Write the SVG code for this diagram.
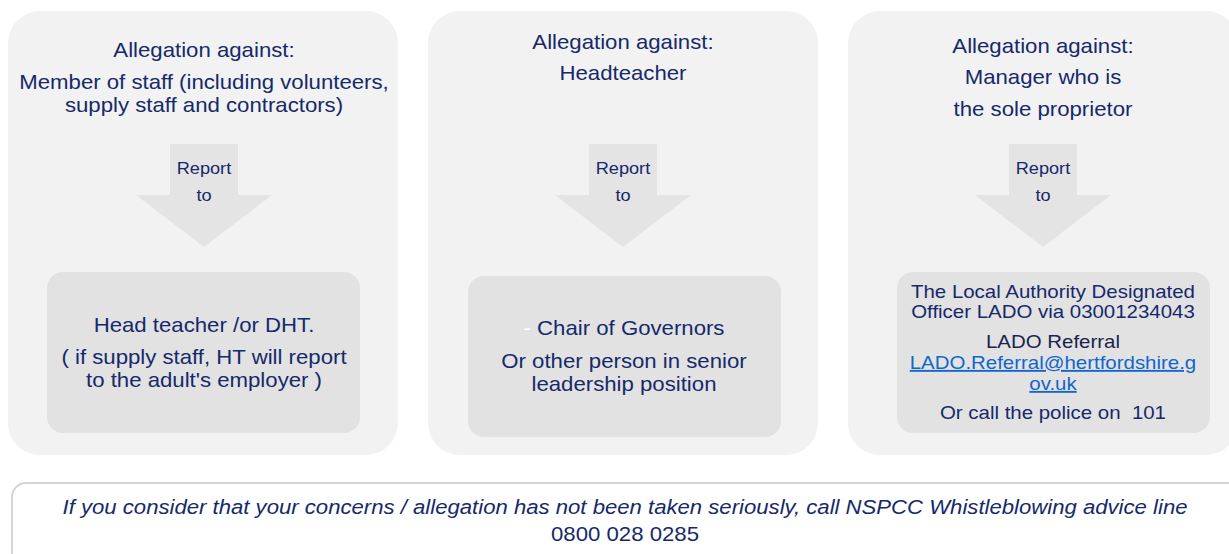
<svg xmlns="http://www.w3.org/2000/svg" width="1229" height="554" viewBox="0 0 1229 554">
<style>
.panel{fill:#f2f2f2}
.inner{fill:#e2e2e2}
.arrow{fill:#e4e4e4}
text{font-family:"Liberation Sans",Arial,sans-serif;fill:#15296b;text-anchor:middle;white-space:pre}
.h{font-size:20px}
.r{font-size:16.5px}
.s{font-size:18.5px}
.link{fill:#1166cc;text-decoration:underline}
.foot{font-size:20px;font-style:italic}
</style>
<rect width="1229" height="554" fill="#ffffff"/>
<g id="panel-staff">
<rect class="panel" x="8" y="11" width="390" height="444" rx="32"/>
<g transform="matrix(1.11,0,0,1,-22.44,0)">
<text class="h" x="204" y="57">Allegation against:</text>
<text class="h" x="204" y="89">Member of staff (including volunteers,</text>
<text class="h" x="204" y="112">supply staff and contractors)</text>
</g>
</g>
<g id="panel-head">
<rect class="panel" x="428" y="11" width="390" height="444" rx="32"/>
<g transform="matrix(1.11,0,0,1,-68.53,0)">
<text class="h" x="623" y="49">Allegation against:</text>
<text class="h" x="623" y="80">Headteacher</text>
</g>
</g>
<g id="panel-manager">
<rect class="panel" x="848" y="11" width="390" height="444" rx="32"/>
<g transform="matrix(1.11,0,0,1,-114.73,0)">
<text class="h" x="1043" y="53">Allegation against:</text>
<text class="h" x="1043" y="84">Manager who is</text>
<text class="h" x="1043" y="116">the sole proprietor</text>
</g>
</g>
<g id="connectors">
<g id="arrow-1">
<polygon class="arrow" points="170,144 238,144 238,195 272,195 204,247 136,195 170,195"/>
<g transform="matrix(1.1,0,0,1,-20.4,0)">
<text class="r" x="204" y="174">Report</text>
<text class="r" x="204" y="201">to</text>
</g>
</g>
<g id="arrow-2">
<polygon class="arrow" points="589,144 657,144 657,195 691,195 623,247 555,195 589,195"/>
<g transform="matrix(1.1,0,0,1,-62.3,0)">
<text class="r" x="623" y="174">Report</text>
<text class="r" x="623" y="201">to</text>
</g>
</g>
<g id="arrow-3">
<polygon class="arrow" points="1009,144 1077,144 1077,195 1111,195 1043,247 975,195 1009,195"/>
<g transform="matrix(1.1,0,0,1,-104.3,0)">
<text class="r" x="1043" y="174">Report</text>
<text class="r" x="1043" y="201">to</text>
</g>
</g>
</g>
<g id="box-ht">
<rect class="inner" x="47" y="272" width="313" height="161" rx="16"/>
<g transform="matrix(1.11,0,0,1,-22.44,0)">
<text class="h" x="204" y="332">Head teacher /or DHT.</text>
<text class="h" x="204" y="364">( if supply staff, HT will report</text>
<text class="h" x="204" y="387">to the adult's employer )</text>
</g>
</g>
<g id="box-chair">
<rect class="inner" x="468" y="276" width="313" height="161" rx="16"/>
<g transform="matrix(1.11,0,0,1,-68.64,0)">
<text class="h" x="624" y="335"><tspan fill="#ffffff">-</tspan> Chair of Governors</text>
<text class="h" x="624" y="368">Or other person in senior</text>
<text class="h" x="624" y="391">leadership position</text>
</g>
</g>
<g id="box-lado">
<rect class="inner" x="897" y="272" width="313" height="161" rx="16"/>
<g transform="matrix(1.105,0,0,1,-110.57,0)">
<text class="s" x="1053" y="298">The Local Authority Designated</text>
<text class="s" x="1053" y="318">Officer LADO via 03001234043</text>
<text class="s" x="1053" y="348" style="fill:#1a2350">LADO Referral</text>
<text class="s link" x="1053" y="369">LADO.Referral@hertfordshire.g</text>
<text class="s link" x="1053" y="390">ov.uk</text>
<text class="s" x="1053" y="419">Or call the police on  101</text>
</g>
</g>
<g id="footer">
<rect x="12" y="483" width="1240" height="90" rx="14" fill="#ffffff" stroke="#d4d4d4" stroke-width="2"/>
<text class="foot" x="625" y="514" textLength="1125" lengthAdjust="spacingAndGlyphs">If you consider that your concerns / allegation has not been taken seriously, call NSPCC Whistleblowing advice line</text>
<g transform="matrix(1.11,0,0,1,-68.75,0)">
<text class="foot" x="625" y="541" style="font-style:normal">0800 028 0285</text>
</g>
</g>
</svg>
